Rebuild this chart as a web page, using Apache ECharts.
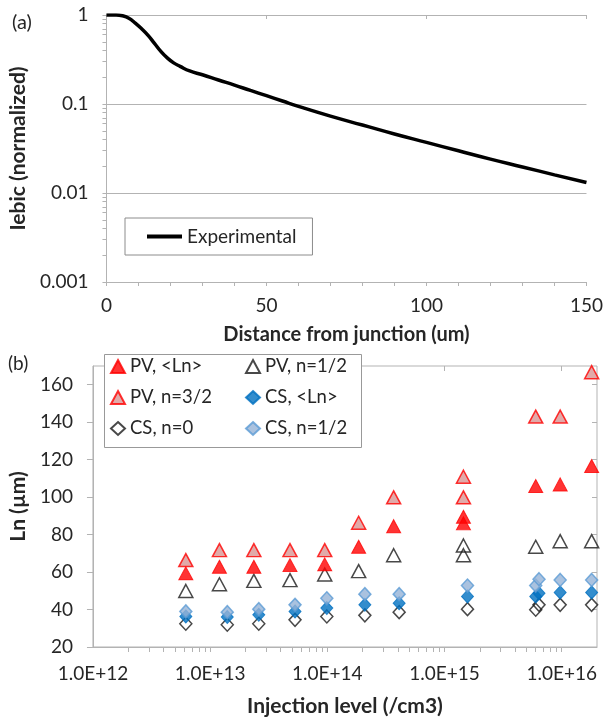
<!DOCTYPE html>
<html>
<head>
<meta charset="utf-8">
<script src="https://cdn.jsdelivr.net/npm/echarts@6/dist/echarts.min.js"></script>
<style>html,body{margin:0;padding:0;background:#fff;}#c{width:606px;height:721px;}</style>
</head>
<body>
<div id="c"></div>
<script>
// ---- Panel (a): EBIC decay ----
const distanceUm = [0, 3, 5, 7, 9, 11, 13, 15, 17, 19, 21, 23, 26, 30, 35, 40, 45, 50, 55, 60, 70, 80, 90, 100, 110, 120, 130, 140, 150];
const iebicNorm = [1.0, 1.0, 0.98, 0.92, 0.81, 0.70, 0.59, 0.48, 0.39, 0.33, 0.29, 0.265, 0.235, 0.213, 0.186, 0.163, 0.142, 0.124, 0.108, 0.094, 0.073, 0.058, 0.046, 0.037, 0.0298, 0.024, 0.0196, 0.016, 0.0131];
const yTickLabelsA = ['0.001', '0.01', '0.1', '1'];
const xMajorA = [0, 50, 100, 150];

// ---- Panel (b): Ln vs injection level ----
const pvX = [6.2e12, 1.2e13, 2.36e13, 4.8e13, 9.5e13, 1.85e14, 3.68e14, 1.45e15, 1.45e15, 6.0e15, 9.7e15, 1.8e16];
const pvMean = [59.3, 62.8, 62.8, 63.7, 64.1, 73.5, 84.5, 86, 89.5, 105.9, 106.8, 116.6];
const pvXHalf = [6.2e12, 1.2e13, 2.36e13, 4.8e13, 9.5e13, 1.85e14, 3.68e14, 1.45e15, 1.45e15, 6.0e15, 9.7e15, 1.8e16];
const pvHalf = [49.9, 53.5, 55.3, 55.7, 58.7, 60.5, 69, 74.2, 69, 73.5, 76.5, 76.5];
const pvXThreeHalf = [6.2e12, 1.2e13, 2.36e13, 4.8e13, 9.5e13, 1.85e14, 3.68e14, 1.45e15, 1.45e15, 6.0e15, 9.7e15, 1.8e16];
const pvThreeHalf = [66.4, 71.7, 71.7, 71.7, 71.7, 86.3, 99.9, 99.9, 110.9, 143, 143, 166.7];

const csX = [6.2e12, 1.4e13, 2.6e13, 5.3e13, 9.9e13, 2.09e14, 4.1e14, 1.57e15, 6.0e15, 6.4e15, 9.7e15, 1.8e16];
const csMean = [36.3, 36.0, 37.2, 39.0, 40.8, 42.5, 43.4, 47.0, 47.0, 48.7, 49.1, 49.1];
const csZero = [32.4, 31.9, 32.4, 34.5, 36.3, 36.9, 38.6, 40.2, 39.9, 42.5, 42.5, 42.5];
const csHalf = [39.0, 38.6, 40.2, 42.5, 46.0, 48.2, 48.2, 52.8, 52.8, 56.2, 55.8, 55.8];

const xTickLabelsB = ['1.0E+12', '1.0E+13', '1.0E+14', '1.0E+15', '1.0E+16'];
const xMajorB = [1e12, 1e13, 1e14, 1e15, 1e16];
const yMajorB = [20, 40, 60, 80, 100, 120, 140, 160];

// tick helper lists (axis decoration only)
function logTicks(e0, e1, maxV) {
  const out = [];
  for (let e = e0; e <= e1; e++) for (let k = 1; k <= 9; k++) {
    const v = k * Math.pow(10, e);
    if (v <= maxV * 1.0000001) out.push(v);
  }
  return out;
}
const yTicksA = logTicks(-3, 0, 1);
const xTicksA = []; for (let v = 0; v <= 150; v += 10) xTicksA.push(v);
const xTicksB = logTicks(12, 16, 2e16);

const zip = (xs, ys) => xs.map((x, i) => [x, ys[i]]);

const FONT = 'Lato';
const TXT = '#262626';
const AX = '#b3b3b3';
const TICK_FS = 19;

const hiddenAxisBase = {
  axisLine: {show: false}, axisLabel: {show: false}, splitLine: {show: false}, name: ''
};

const chart = echarts.init(document.getElementById('c'), null, {renderer: 'canvas'});
const option = {
  animation: false,
  textStyle: {fontFamily: FONT},
  grid: [
    {left: 104, top: 15, width: 486, height: 267},
    {left: 91, top: 366, width: 506, height: 281, show: true, borderColor: AX, borderWidth: 1}
  ],
  xAxis: [
    {
      gridIndex: 0, type: 'value', min: 0, max: 150, interval: 50,
      axisLine: {show: true, lineStyle: {color: AX}},
      axisTick: {show: true, length: 4, customValues: xTicksA, lineStyle: {color: AX}},
      splitLine: {show: false},
      axisLabel: {fontSize: TICK_FS, color: TXT, margin: 14, fontFamily: FONT},
      name: 'Distance from junction (um)', nameLocation: 'middle', nameGap: 43,
      nameTextStyle: {fontSize: 20, fontWeight: 'bold', color: TXT, fontFamily: FONT}
    },
    {
      gridIndex: 1, type: 'log', logBase: 10, min: 1e12, max: 2e16,
      axisLine: {show: true, lineStyle: {color: AX}},
      axisTick: {show: true, length: 5, customValues: xTicksB, lineStyle: {color: AX}},
      splitLine: {show: false},
      axisLabel: {
        fontSize: TICK_FS, color: TXT, margin: 17, fontFamily: FONT, showMaxLabel: false,
        formatter: (v) => {
          const e = Math.log10(v);
          const r = Math.round(e);
          if (Math.abs(e - r) > 1e-6) return '';
          return xTickLabelsB[r - 12] || '';
        }
      },
      name: 'Injection level (/cm3)', nameLocation: 'middle', nameGap: 49,
      nameTextStyle: {fontSize: 21, fontWeight: 'bold', color: TXT, fontFamily: FONT}
    },
    Object.assign({}, hiddenAxisBase, {
      gridIndex: 0, type: 'value', min: 0, max: 150,
      axisTick: {show: true, inside: true, length: 4, customValues: xMajorA, lineStyle: {color: AX}}
    }),
    Object.assign({}, hiddenAxisBase, {
      gridIndex: 1, type: 'log', logBase: 10, min: 1e12, max: 2e16,
      axisTick: {show: true, inside: true, length: 5, customValues: xMajorB, lineStyle: {color: AX}}
    })
  ],
  yAxis: [
    {
      gridIndex: 0, type: 'log', logBase: 10, min: 0.001, max: 1,
      axisLine: {show: true, lineStyle: {color: AX}},
      axisTick: {show: true, length: 4, customValues: yTicksA, lineStyle: {color: AX}},
      splitLine: {show: false},
      axisLabel: {
        fontSize: TICK_FS, color: TXT, margin: 18, fontFamily: FONT,
        formatter: (v) => yTickLabelsA[Math.round(Math.log10(v)) + 3] || ''
      },
      name: 'Iebic (normalized)', nameLocation: 'middle', nameGap: 66, nameRotate: 90,
      nameTextStyle: {fontSize: 21, fontWeight: 'bold', color: TXT, fontFamily: FONT}
    },
    {
      gridIndex: 1, type: 'value', min: 20, max: 170, interval: 20,
      axisLine: {show: true, lineStyle: {color: AX}},
      axisTick: {show: true, length: 6, lineStyle: {color: AX}},
      splitLine: {show: false},
      axisLabel: {fontSize: TICK_FS, color: TXT, margin: 20, fontFamily: FONT, showMaxLabel: false},
      name: 'Ln (µm)', nameLocation: 'middle', nameGap: 60, nameRotate: 90,
      nameTextStyle: {fontSize: 21, fontWeight: 'bold', color: TXT, fontFamily: FONT}
    },
    Object.assign({}, hiddenAxisBase, {
      gridIndex: 1, type: 'value', min: 20, max: 170,
      axisTick: {show: true, inside: true, length: 5, customValues: yMajorB, lineStyle: {color: AX}}
    }),
    Object.assign({}, hiddenAxisBase, {
      gridIndex: 0, type: 'log', logBase: 10, min: 0.001, max: 1,
      axisTick: {show: false},
      splitLine: {show: true, lineStyle: {color: AX, width: 1}}
    })
  ],
  legend: [
    {
      data: [{name: 'Experimental', icon: 'rect'}], left: 125, top: 218,
      padding: [9, 16, 9, 22], borderColor: '#8c8c8c', borderWidth: 1, backgroundColor: '#fff',
      itemWidth: 35, itemHeight: 4,
      textStyle: {fontSize: 19, color: TXT, fontFamily: FONT}
    },
    {
      data: ['PV, <Ln>', 'PV, n=3/2', 'CS, n=0'], orient: 'vertical', left: 110, top: 357, padding: 0,
      itemGap: 12, itemWidth: 14, itemHeight: 13, z: 10,
      textStyle: {fontSize: 18.5, lineHeight: 18, color: TXT, fontFamily: FONT}
    },
    {
      data: ['PV, n=1/2', 'CS, <Ln>', 'CS, n=1/2'], orient: 'vertical', left: 245, top: 357, padding: 0,
      itemGap: 12, itemWidth: 14, itemHeight: 13, z: 10,
      textStyle: {fontSize: 18.5, lineHeight: 18, color: TXT, fontFamily: FONT}
    }
  ],
  graphic: [
    {type: 'rect', left: 104, top: 354, z: 5, shape: {width: 257, height: 93},
     style: {fill: '#fff', stroke: '#999', lineWidth: 1}},
    {type: 'text', left: 12, top: 13, z: 5, style: {text: '(a)', fontSize: 20, fontFamily: FONT, fill: TXT}},
    {type: 'text', left: 8, top: 354, z: 5, style: {text: '(b)', fontSize: 19, fontFamily: FONT, fill: TXT}}
  ],
  series: [
    {
      name: 'Experimental', type: 'line', xAxisIndex: 0, yAxisIndex: 0,
      data: zip(distanceUm, iebicNorm), smooth: true, symbol: 'none', showSymbol: false,
      lineStyle: {color: '#000', width: 3.5}, itemStyle: {color: '#000'}
    },
    {
      name: 'PV, n=1/2', type: 'scatter', xAxisIndex: 1, yAxisIndex: 1,
      data: zip(pvXHalf, pvHalf), symbol: 'triangle', symbolSize: [14, 13],
      itemStyle: {color: 'transparent', borderColor: '#1a1a1a', borderWidth: 1.5}
    },
    {
      name: 'PV, <Ln>', type: 'scatter', xAxisIndex: 1, yAxisIndex: 1,
      data: zip(pvX, pvMean), symbol: 'triangle', symbolSize: [14, 13],
      itemStyle: {color: '#ff0000', borderColor: '#ff0000', borderWidth: 1}
    },
    {
      name: 'PV, n=3/2', type: 'scatter', xAxisIndex: 1, yAxisIndex: 1,
      data: zip(pvXThreeHalf, pvThreeHalf), symbol: 'triangle', symbolSize: [14, 13],
      itemStyle: {color: '#d99594', borderColor: '#ff0000', borderWidth: 1.5}
    },
    {
      name: 'CS, n=0', type: 'scatter', xAxisIndex: 1, yAxisIndex: 1,
      data: zip(csX, csZero), symbol: 'diamond', symbolSize: [12, 13],
      itemStyle: {color: 'transparent', borderColor: '#1a1a1a', borderWidth: 1.5}
    },
    {
      name: 'CS, <Ln>', type: 'scatter', xAxisIndex: 1, yAxisIndex: 1,
      data: zip(csX, csMean), symbol: 'diamond', symbolSize: [12, 13],
      itemStyle: {color: '#0070c0', borderColor: '#0070c0', borderWidth: 1}
    },
    {
      name: 'CS, n=1/2', type: 'scatter', xAxisIndex: 1, yAxisIndex: 1,
      data: zip(csX, csHalf), symbol: 'diamond', symbolSize: [12, 13],
      itemStyle: {color: '#95b3d7', borderColor: '#5b9bd5', borderWidth: 1.5}
    }
  ]
};
chart.setOption(option);
</script>
</body>
</html>
